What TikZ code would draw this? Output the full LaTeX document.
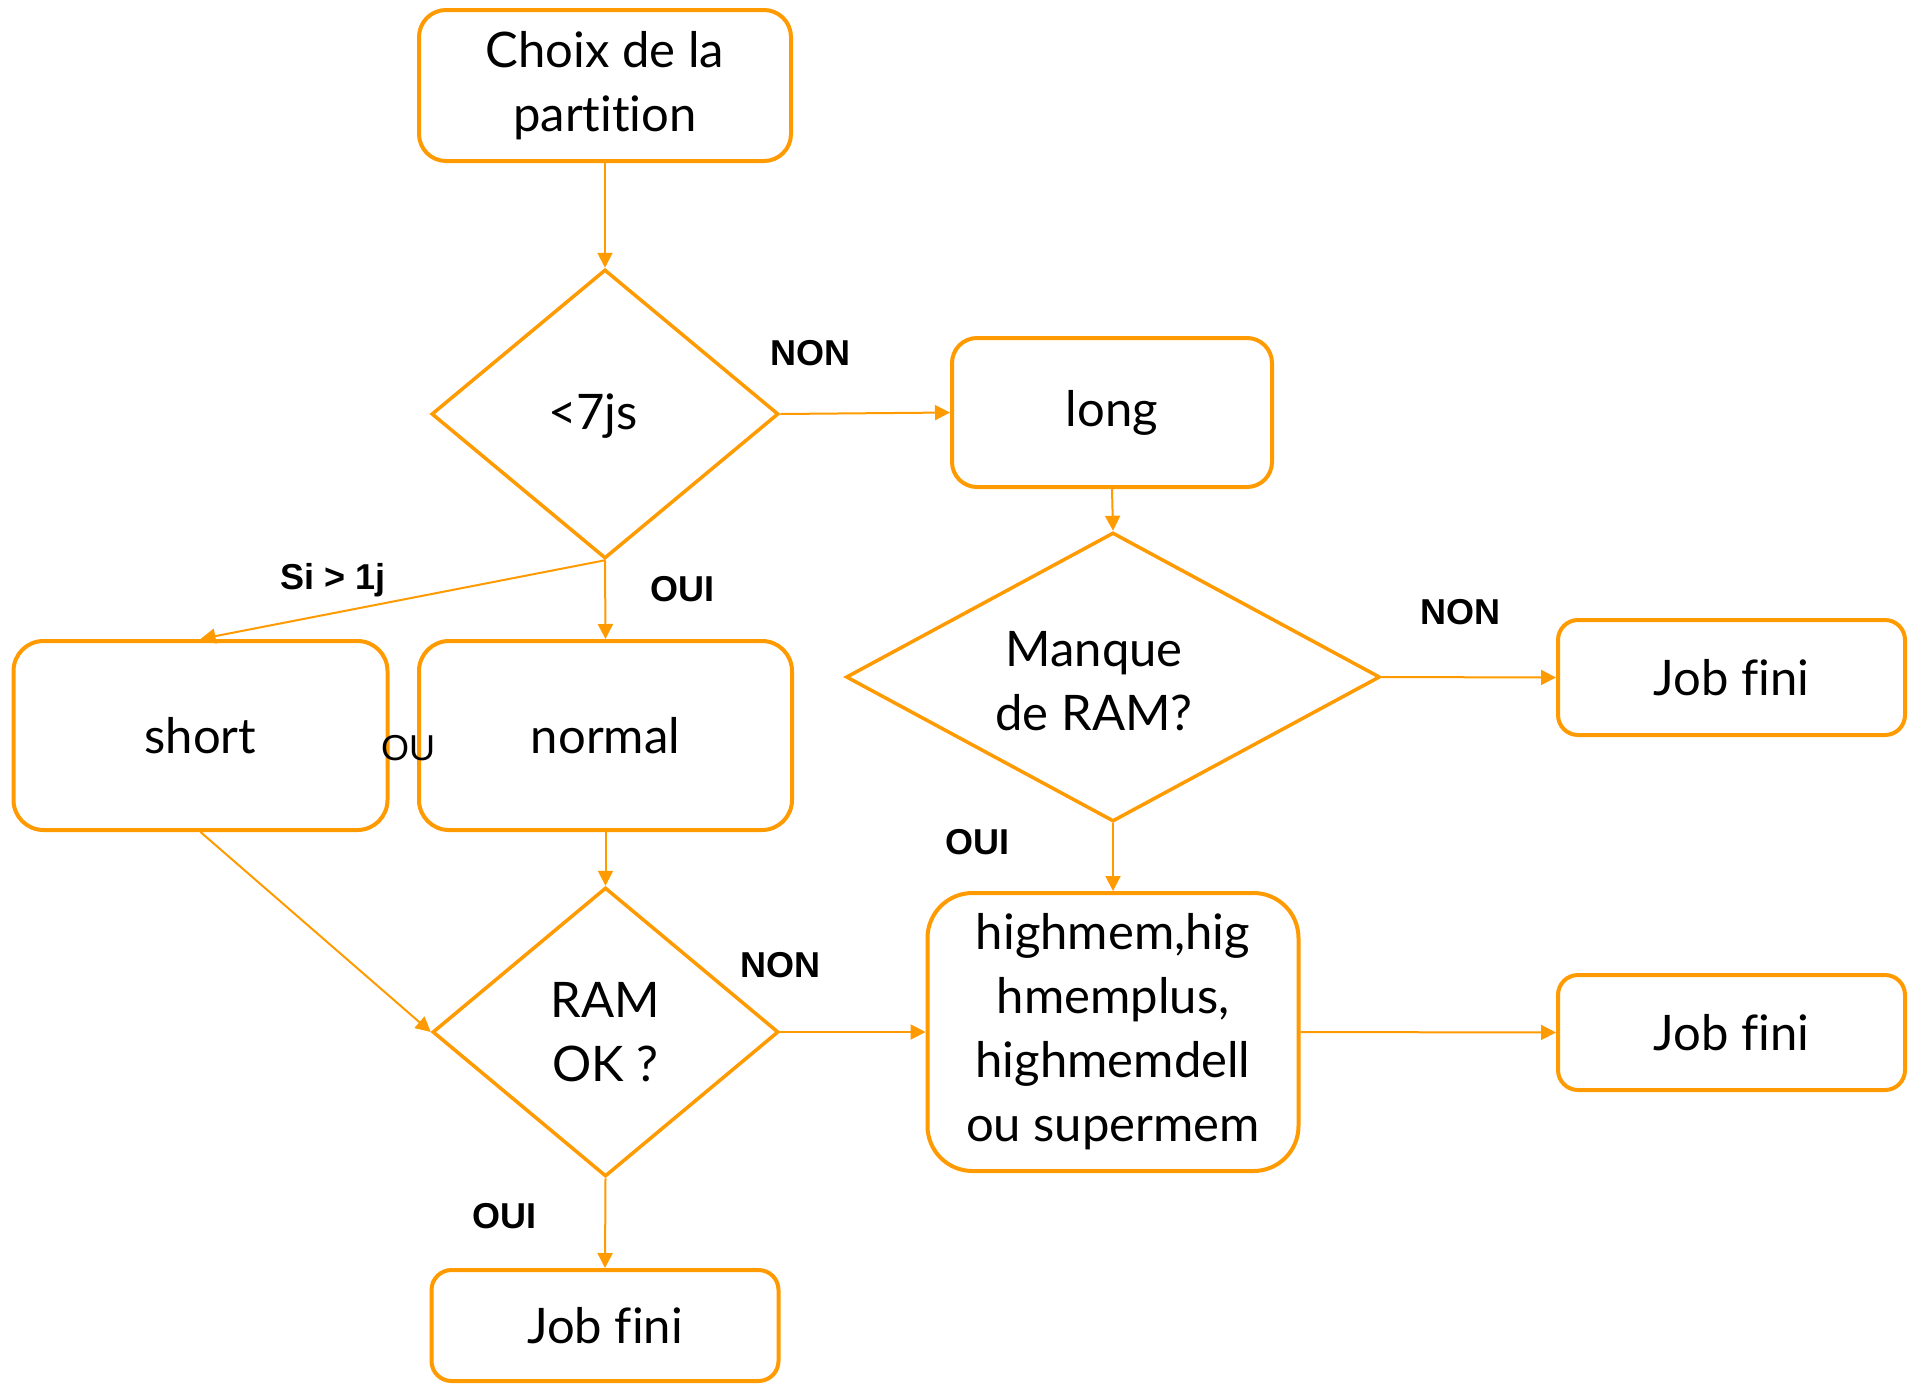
\documentclass[tikz,border=0pt]{standalone}
\usepackage{fontspec}
\setmainfont{Lato}[Ligatures=CommonOff]
\newfontfamily\lblfont{Liberation Sans}
\usetikzlibrary{shapes.geometric,arrows.meta}
\definecolor{orng}{HTML}{FF9A00}
\begin{document}
\begin{tikzpicture}[x=1pt,y=-1pt,
  box/.style={draw=orng, line width=4pt, rounded corners=#1, inner sep=0pt, align=center,
    font=\fontsize{49}{64}\selectfont},
  box/.default=25pt,
  dia/.style={draw=orng, line width=3.5pt, diamond, inner sep=0pt, align=center,
    font=\fontsize{49}{64}\selectfont},
  conn/.style={draw=orng, line width=2pt, -{Triangle[length=15pt,width=15pt]}},
  lbl/.style={inner sep=0pt, font=\lblfont\bfseries\fontsize{36}{42}\selectfont},
  lblr/.style={inner sep=0pt, font=\lblfont\fontsize{36}{42}\selectfont}
]
\useasboundingbox (0,0) rectangle (1908,1385);

\node[box=27pt, minimum width=372pt, minimum height=151pt] (choix) at (605,85.5) {Choix de la\\partition};
\node[dia, minimum width=347pt, minimum height=289pt] (d1) at (605,414) {};
\node (d1t) at (593,416) [font=\fontsize{49}{64}\selectfont, inner sep=0pt] {<7js};
\node[box=25pt, minimum width=320pt, minimum height=149pt] (long) at (1112,412.5) {long};
\node[dia, minimum width=534pt, minimum height=289pt] (manque) at (1113,677) {};
\node (manquet) at (1094,681) [font=\fontsize{49}{64}\selectfont, inner sep=0pt, align=center] {Manque\\de RAM?};
\node[box=20pt, minimum width=347pt, minimum height=115pt] (jf1) at (1731.5,677.5) {Job fini};
\node[box=20pt, minimum width=347pt, minimum height=115pt] (jf2) at (1731.5,1032.5) {Job fini};
\node[box=30pt, minimum width=374pt, minimum height=189pt] (short) at (200.5,735.5) {short};
\node[box=30pt, minimum width=373pt, minimum height=189pt] (normal) at (605.5,735.5) {normal};
\node[dia, minimum width=346pt, minimum height=289pt] (ram) at (605.5,1032) {RAM\\OK ?};
\node[box=45pt, minimum width=371pt, minimum height=278pt] (high) at (1113,1032) {highmem,hig\\hmemplus,\\highmemdell\\ou supermem};
\node[box=20pt, minimum width=347pt, minimum height=111pt] (jf3) at (605,1325.5) {Job fini};

\draw[conn] (choix.south) -- (d1.north);
\draw[conn] (d1.east) -- (long.west);
\draw[conn] (long.south) -- (manque.north);
\draw[conn] (d1.south) -- (normal.north);
\draw[conn] (d1.south) -- (short.north);
\draw[conn] (manque.east) -- (jf1.west);
\draw[conn] (manque.south) -- (high.north);
\draw[conn] (normal.south) -- (ram.north);
\draw[conn] (short.south) -- (ram.west);
\draw[conn] (ram.east) -- (high.west);
\draw[conn] (high.east) -- (jf2.west);
\draw[conn] (ram.south) -- (jf3.north);

\node[lbl] (non1) at (810,353) {NON};
\node[lbl] (sij) at (333,580) {Si > 1j};
\node[lbl] (oui1) at (682,589) {OUI};
\node[lblr] (ou) at (408,748) {OU};
\node[lbl] (non2) at (1460,612) {NON};
\node[lbl] (oui2) at (977,842) {OUI};
\node[lbl] (non3) at (780,965) {NON};
\node[lbl] (oui3) at (504,1216) {OUI};
\end{tikzpicture}
\end{document}
